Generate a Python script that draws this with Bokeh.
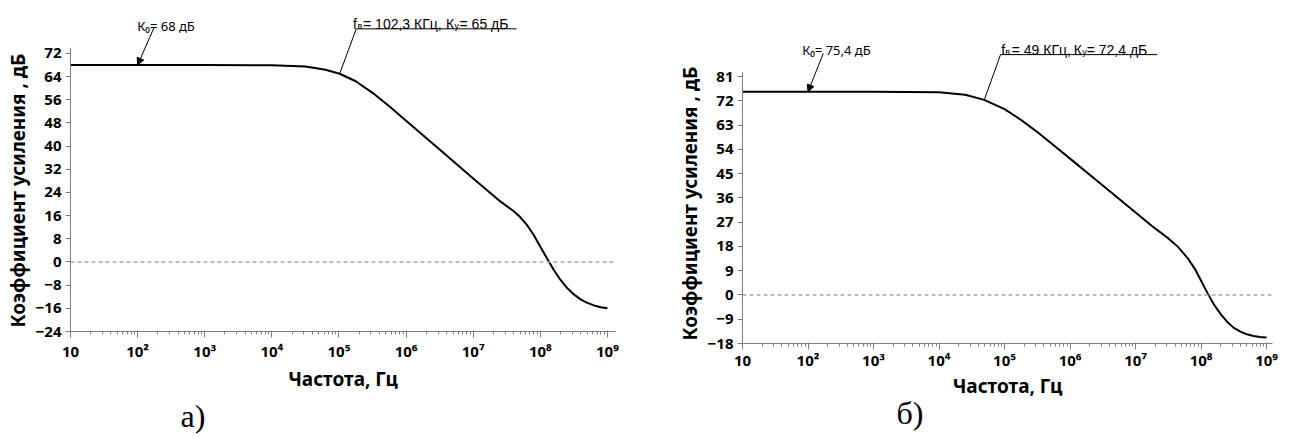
from bokeh.plotting import figure
from bokeh.models import Range1d, FixedTicker, Label, Arrow, NormalHead, Span, Title
from bokeh.embed import file_html
from bokeh.resources import INLINE
from bokeh.core.templates import get_env

# ---- panel а): gain vs frequency ----
freq_a = [10, 100, 1e3, 1e4, 3.16e4, 6.31e4, 1.023e5, 1.78e5, 3.16e5, 5.62e5,
          1e6, 3.16e6, 1e7, 2.51e7, 3.98e7, 5.01e7, 6.31e7, 7.94e7, 1e8,
          1.26e8, 1.58e8, 2e8, 2.51e8, 3.16e8, 3.98e8, 5.01e8, 6.31e8, 7.94e8, 1e9]
gain_a = [68.0, 68.0, 68.0, 67.9, 67.5, 66.4, 65.0, 62.4, 58.4, 53.8,
          48.8, 38.8, 28.8, 21.0, 17.6, 15.5, 12.8, 9.4, 5.3,
          1.2, -2.7, -6.2, -9.0, -11.2, -12.9, -14.1, -15.0, -15.6, -16.0]
k0_a = 68.0
fv_a = 102.3e3
ky_a = 65.0
yticks_a = [-24, -16, -8, 0, 8, 16, 24, 32, 40, 48, 56, 64, 72]

# ---- panel б): gain vs frequency ----
freq_b = [10, 100, 1e3, 1e4, 2.51e4, 4.9e4, 1e5, 1.78e5, 3.16e5, 5.62e5,
          1e6, 3.16e6, 1e7, 1.78e7, 3.16e7, 4.47e7, 6.31e7, 7.94e7, 1e8,
          1.26e8, 1.58e8, 2e8, 2.51e8, 3.16e8, 3.98e8, 5.01e8, 6.31e8, 7.94e8, 1e9]
gain_b = [75.4, 75.4, 75.4, 75.2, 74.3, 72.4, 69.0, 65.0, 60.5, 55.6,
          50.6, 40.6, 30.6, 25.6, 21.0, 17.8, 13.5, 9.9, 5.3,
          0.6, -3.6, -7.2, -10.0, -12.2, -13.6, -14.6, -15.2, -15.6, -15.8]
k0_b = 75.4
fv_b = 49e3
ky_b = 72.4
yticks_b = [-18, -9, 0, 9, 18, 27, 36, 45, 54, 63, 72, 81]

decades = [10, 100, 1e3, 1e4, 1e5, 1e6, 1e7, 1e8, 1e9]
decade_labels = ["10", "10²", "10³", "10⁴", "10⁵", "10⁶", "10⁷", "10⁸", "10⁹"]
minor_x = [m * d for d in decades[:-1] for m in range(2, 10)]

x_title = "Частота, Гц"
y_title = "Коэффициент усиления , дБ"

AX_FONT = "Noto Sans"
AX_GRAY = "#7f7f7f"


def make_panel(freq, gain, yticks, y_rng, y_bounds, x_end, size, borders,
               k0, fv, ky, ann, tag):
    left, right, top, bottom = borders
    p = figure(width=size[0], height=size[1], x_axis_type="log",
               x_range=Range1d(10, x_end), y_range=Range1d(*y_rng),
               output_backend="svg", toolbar_location=None,
               min_border_left=left, min_border_right=right,
               min_border_top=top, min_border_bottom=bottom)
    p.outline_line_color = None
    p.grid.visible = False
    p.background_fill_color = "white"
    p.border_fill_color = "white"

    # axes
    p.xaxis.ticker = FixedTicker(ticks=decades, minor_ticks=minor_x)
    p.xaxis.major_label_overrides = {d: s for d, s in zip(decades, decade_labels)}
    p.yaxis.ticker = FixedTicker(ticks=yticks, minor_ticks=[])
    p.yaxis.bounds = y_bounds
    p.xaxis.axis_label = x_title
    for ax in (p.xaxis, p.yaxis):
        ax.axis_line_color = AX_GRAY
        ax.major_tick_line_color = AX_GRAY
        ax.minor_tick_line_color = AX_GRAY
        ax.major_label_text_font = AX_FONT
        ax.major_label_text_font_style = "bold"
        ax.major_label_text_font_size = "15px"
        ax.major_label_text_color = "black"
    p.xaxis.axis_label_text_font = AX_FONT
    p.xaxis.axis_label_text_font_style = "bold"
    p.xaxis.axis_label_text_color = "black"
    p.xaxis.axis_label_text_font_size = "19px"
    p.xaxis.major_tick_out = 6
    p.xaxis.major_tick_in = 1
    p.xaxis.minor_tick_out = 3
    p.xaxis.minor_tick_in = 0
    p.xaxis.major_label_standoff = ann["xlab_standoff"][0]
    p.xaxis.axis_label_standoff = ann["xlab_standoff"][1]
    p.yaxis.major_tick_out = 5
    p.yaxis.major_tick_in = 0
    p.yaxis.major_label_standoff = 4

    # y title anchored at the lower end of the tick span
    p.add_layout(Title(text=y_title, align="left", offset=ann["ytitle_offset"], standoff=4,
                       text_font=AX_FONT, text_font_size="19px", text_font_style="bold",
                       text_color="black"), "left")

    # zero reference
    p.add_layout(Span(location=0, dimension="width", line_color="#a6a6a6",
                      line_dash="4 3", line_width=1.5))

    # gain curve
    p.line(freq, gain, line_color="black", line_width=2)

    # K0 annotation with arrow
    p.add_layout(Arrow(end=NormalHead(size=7, fill_color="black", line_color="black"),
                       x_start=ann["k0_tail"][0], y_start=ann["k0_tail"][1],
                       x_end=100, y_end=k0, line_color="black", line_width=1))
    p.add_layout(Label(x=ann["k0_text"][0], y=ann["k0_text"][1], text=ann["k0_str"],
                       text_font="Noto Sans", text_font_size="13px",
                       text_baseline="alphabetic", text_color="black"))

    # upper cutoff annotation: leader + underline + text pieces
    lx, ly = ann["lead"]
    p.add_layout(Arrow(end=None, x_start=lx, y_start=ly, x_end=fv, y_end=ky,
                       line_color="black", line_width=1))
    p.add_layout(Arrow(end=None, x_start=lx, y_start=ly, x_end=ann["under_end"], y_end=ly,
                       line_color="black", line_width=1))
    tx, ty = ann["fv_text"]
    for txt, dx, sub in ann["fv_pieces"]:
        p.add_layout(Label(x=tx, y=ty, x_offset=dx, y_offset=-2 if sub else 0, text=txt,
                           text_font="Liberation Sans",
                           text_font_size="9px" if sub else "14px",
                           text_baseline="alphabetic", text_color="black"))

    # panel tag under the axis title
    p.add_layout(Title(text=tag, align="left", offset=ann["tag_offset"],
                       standoff=ann["tag_standoff"],
                       text_font="Liberation Serif", text_font_size="32px",
                       text_font_style="normal", text_color="black"), "below")
    return p


ann_a = dict(k0_tail=(176, 80.95), k0_text=(98.6, 81.6), k0_str="К₀= 68 дБ",
             lead=(1.81e5, 80.5), under_end=4.44e7, fv_text=(1.62e5, 82.0),
             fv_pieces=[("f", 0, False), ("в", 4.5, True), ("= 102,3 КГц,", 10, False),
                        ("К", 93, False), ("у", 101.5, True), ("= 65 дБ", 106.5, False)],
             tag_offset=110, tag_standoff=2, ytitle_offset=4, xlab_standoff=(3, 2))
ann_b = dict(k0_tail=(171, 89.65), k0_text=(81.5, 90.8), k0_str="К₀= 75,4 дБ",
             lead=(8.69e4, 89.2), under_end=2.14e7, fv_text=(8.9e4, 90.8),
             fv_pieces=[("f", 0, False), ("в", 4, True), ("= 49 КГц,", 10.5, False),
                        ("К", 72.5, False), ("у", 81, True), ("= 72,4 дБ", 85.5, False)],
             tag_offset=154, tag_standoff=-18, ytitle_offset=3, xlab_standoff=(0, 0))

p_a = make_panel(freq_a, gain_a, yticks_a, (-24, 88.9), (-24, 73.7), 10 ** 9.12,
                 (646, 439), (68, 31, 4, 108), k0_a, fv_a, ky_a, ann_a, "а)")
p_b = make_panel(freq_b, gain_b, yticks_b, (-18, 107.8), (-18, 82.6), 10 ** 9.09,
                 (646, 460), (96, 20, 4, 117), k0_b, fv_b, ky_b, ann_b, "б)")

# two independent roots placed side by side
page = get_env().from_string("""{% extends "file.html" %}
{% block preamble %}<style>
body { overflow: hidden; }
.panels { display: flex; flex-direction: row; align-items: flex-start; }
</style>{% endblock %}
{% block contents %}<div class="panels">{{ super() }}</div>{% endblock %}
""")

open("out.html", "w").write(file_html([p_a, p_b], INLINE, title="Коэффициент усиления", template=page))
